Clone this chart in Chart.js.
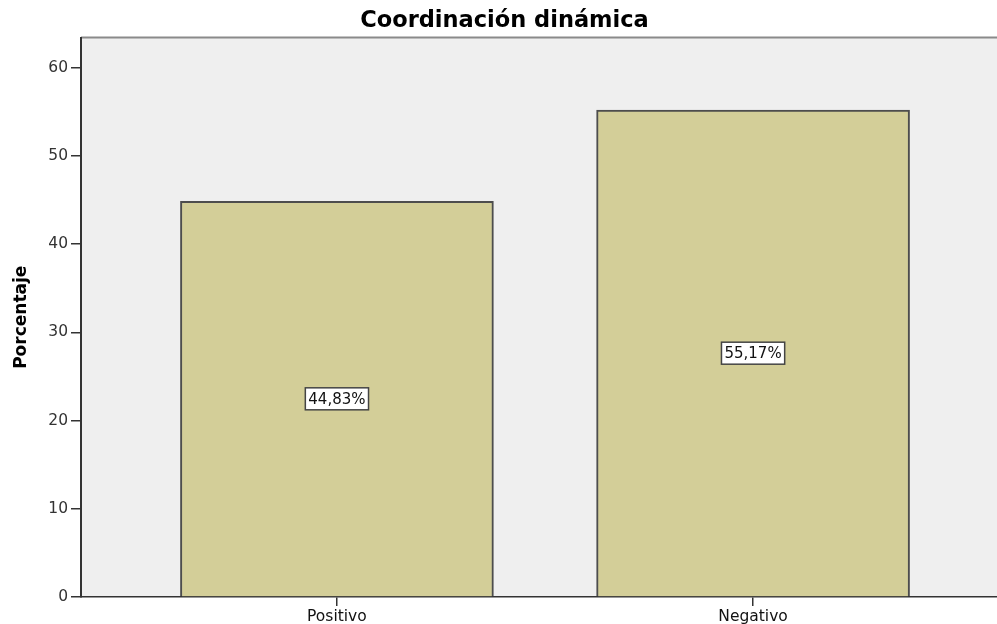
<!DOCTYPE html>
<html>
<head>
<meta charset="utf-8">
<script src="https://cdn.jsdelivr.net/npm/chart.js@4.4.1/dist/chart.umd.min.js"></script>
<style>
    html, body { margin: 0; padding: 0; background: #fff; overflow: hidden; }
    #wrap { width: 1009px; height: 624px; position: relative; }
</style>
</head>
<body>
<div id="wrap"><canvas id="chart"></canvas></div>
<script>
// Chart data
const categories = ['Positivo', 'Negativo'];
const percentages = [44.83, 55.17];
const yTicks = [0, 10, 20, 30, 40, 50, 60];

const FONT = "'DejaVu Sans', Arial, sans-serif";

// Grey plot background with a thin frame line on top
const plotBackground = {
    id: 'plotBackground',
    beforeDraw(chart) {
        const { ctx, chartArea: a } = chart;
        ctx.save();
        ctx.fillStyle = '#efefef';
        ctx.fillRect(a.left, a.top, a.right - a.left, a.bottom - a.top);
        ctx.strokeStyle = '#8a8a8a';
        ctx.lineWidth = 2;
        ctx.beginPath();
        ctx.moveTo(a.left, a.top);
        ctx.lineTo(a.right, a.top);
        ctx.stroke();
        ctx.restore();
    }
};

// Boxed percentage labels in the middle of each bar
const barLabels = {
    id: 'barLabels',
    afterDatasetsDraw(chart) {
        const { ctx } = chart;
        const meta = chart.getDatasetMeta(0);
        ctx.save();
        ctx.font = '15px ' + FONT;
        ctx.textAlign = 'center';
        ctx.textBaseline = 'middle';
        meta.data.forEach((bar, i) => {
            const text = percentages[i].toFixed(2).replace('.', ',') + '%';
            const cx = bar.x;
            const cy = (bar.y + bar.base) / 2;
            const w = ctx.measureText(text).width + 6;
            const h = 22;
            ctx.fillStyle = '#fff';
            ctx.fillRect(cx - w / 2, cy - h / 2, w, h);
            ctx.strokeStyle = '#444';
            ctx.lineWidth = 1.5;
            ctx.strokeRect(cx - w / 2, cy - h / 2, w, h);
            ctx.fillStyle = '#111';
            ctx.fillText(text, cx, cy + 1);
        });
        ctx.restore();
    }
};

new Chart(document.getElementById('chart'), {
    type: 'bar',
    data: {
        datasets: [{
            data: percentages.map((v, i) => ({ x: i + 1, y: v })),
            backgroundColor: '#d3ce98',
            borderColor: '#4d4d4d',
            borderWidth: 2,
            barThickness: 313
        }]
    },
    options: {
        responsive: true,
        maintainAspectRatio: false,
        animation: false,
        layout: { padding: 0 },
        plugins: {
            legend: { display: false },
            tooltip: { enabled: false },
            title: {
                display: true,
                text: 'Coordinación dinámica',
                color: '#000',
                font: { family: FONT, size: 22.5, weight: 'bold', lineHeight: 1 },
                padding: { top: 10, bottom: 5 }
            }
        },
        scales: {
            x: {
                type: 'linear',
                offset: false,
                min: 0.385,
                max: 2.615,
                afterBuildTicks: s => { s.ticks = categories.map((_, i) => ({ value: i + 1 })); },
                afterFit: s => { s.height = 27; },
                ticks: {
                    autoSkip: false,
                    maxRotation: 0,
                    padding: 2,
                    color: '#111',
                    font: { family: FONT, size: 15.5 },
                    callback: v => categories[v - 1]
                },
                grid: { offset: false, drawOnChartArea: false, tickLength: 9, color: '#333', lineWidth: 1.5 },
                border: { color: '#333', width: 1.5 }
            },
            y: {
                min: 0,
                max: 63.4,
                afterBuildTicks: s => { s.ticks = yTicks.map(v => ({ value: v })); },
                afterFit: s => { s.width = 81; },
                ticks: {
                    padding: 3,
                    color: '#333',
                    font: { family: FONT, size: 15.5 }
                },
                grid: { drawOnChartArea: false, tickLength: 10, color: '#333', lineWidth: 1.5 },
                border: { color: '#333', width: 2 },
                title: {
                    display: true,
                    text: 'Porcentaje',
                    color: '#000',
                    font: { family: FONT, size: 17, weight: 'bold' },
                    padding: { top: 11, bottom: 0 }
                }
            }
        }
    },
    plugins: [plotBackground, barLabels]
});
</script>
</body>
</html>
